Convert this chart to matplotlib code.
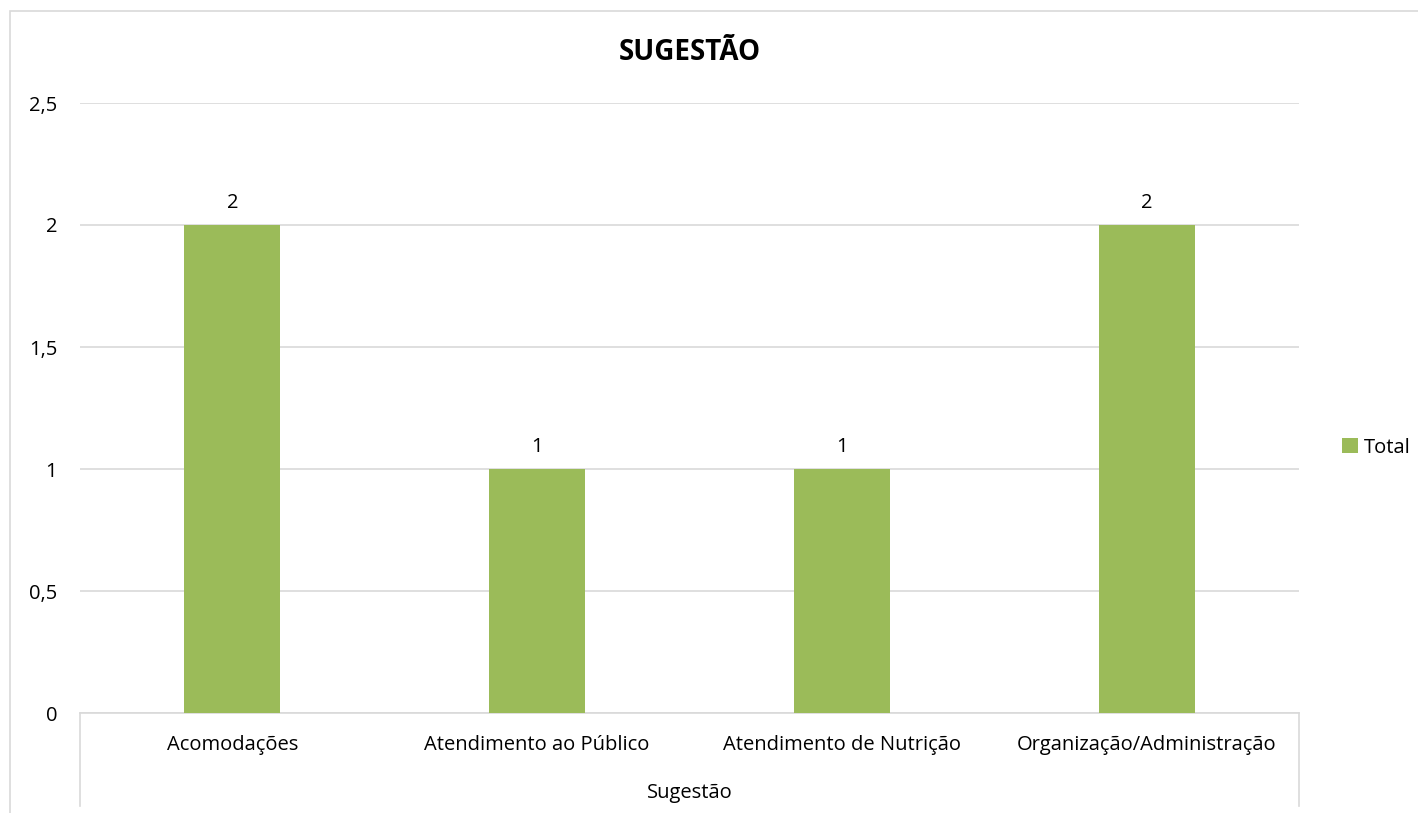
import matplotlib
matplotlib.use("Agg")
import matplotlib.pyplot as plt
from matplotlib.patches import Rectangle
from matplotlib.lines import Line2D

categories = ["Acomodações", "Atendimento ao Público", "Atendimento de Nutrição", "Organização/Administração"]
values = [2, 1, 1, 2]
yticks = [0, 0.5, 1, 1.5, 2, 2.5]
ytick_labels = ["0", "0,5", "1", "1,5", "2", "2,5"]
title = "SUGESTÃO"
xlabel = "Sugestão"
series_name = "Total"

W, H = 1418, 813
plt.rcParams['font.family'] = ['Open Sans', 'DejaVu Sans']
fig = plt.figure(figsize=(W / 100, H / 100), dpi=100)
fig.patch.set_facecolor("white")

# outer chart border (cropped at right/bottom)
fig.patches.append(Rectangle((10 / W, -0.1), 1.2, 1 - 11 / H + 0.1, transform=fig.transFigure,
                             fill=False, edgecolor="#D9D9D9", linewidth=1.2))

ax = fig.add_axes([80 / W, 1 - 713 / H, (1299 - 80) / W, (713 - 103) / H])
green = "#9BBB59"
fs = 14.5
x = list(range(len(categories)))
bars = ax.bar(x, values, width=0.315, color=green, zorder=3, label=series_name)
ax.set_xlim(-0.5, len(categories) - 0.5)
ax.set_ylim(0, 2.5)
ax.set_yticks(yticks)
ax.set_yticklabels(ytick_labels, fontsize=fs, color="#000000")
ax.set_xticks(x)
ax.set_xticklabels(categories, fontsize=fs, color="#000000")
ax.tick_params(axis="y", length=0, pad=16.5)
ax.tick_params(axis="x", length=0, pad=16)
ax.grid(axis="y", color="#D9D9D9", linewidth=1.2, zorder=0)
for s in ["top", "right", "left"]:
    ax.spines[s].set_visible(False)
ax.spines["bottom"].set_color("#D9D9D9")
ax.spines["bottom"].set_linewidth(1.2)

ext = (806 - 713) / (713 - 103) * 2.5
for xv in [-0.5, len(categories) - 0.5]:
    ax.add_line(Line2D([xv, xv], [0, -ext], color="#D9D9D9", linewidth=1.2, clip_on=False))

for xi, v in zip(x, values):
    ax.text(xi, v + 0.05, str(v), ha="center", va="bottom", fontsize=fs, color="#000000")

ax.set_xlabel(xlabel, fontsize=fs, labelpad=20)
fig.text((80 + 1299) / 2 / W, 1 - 53 / H, title, ha="center", va="center",
         fontsize=20, fontweight="bold")

leg = ax.legend(loc="center left", bbox_to_anchor=(1.02, 0.435), frameon=False,
                fontsize=fs, handlelength=0.8, handleheight=0.8, handletextpad=0.3)

fig.savefig("out.png", dpi=100)
